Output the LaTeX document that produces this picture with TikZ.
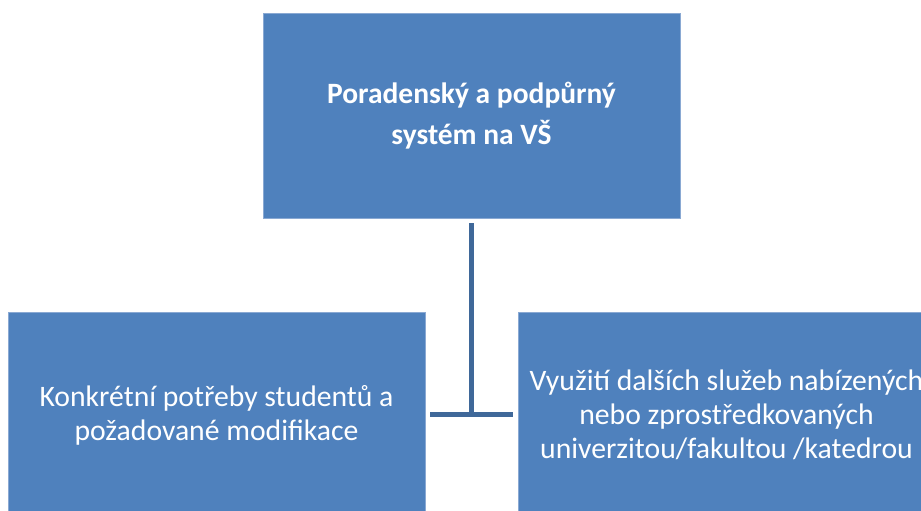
\documentclass[tikz,border=0pt]{standalone}
\usepackage{fontspec}
\setmainfont{Carlito}
\definecolor{boxfill}{HTML}{4F81BD}
\definecolor{boxedge}{HTML}{8AA9D3}
\definecolor{linkcol}{HTML}{3F6899}
\begin{document}
\begin{tikzpicture}[x=1pt,y=1pt,
  orgbox/.style={fill=boxfill,draw=boxedge,line width=0.8pt,
    minimum width=417pt,minimum height=206pt,inner sep=0pt,
    text=white,align=center,font=\fontsize{29.7}{34}\selectfont},
  link/.style={draw=linkcol,line width=5pt}]
\useasboundingbox (0,0) rectangle (921,511);
% top box: head of the structure
\node[orgbox,minimum height=205pt,font=\bfseries\fontsize{29.5}{41}\selectfont]
  (top) at (471.5,395.5) {Poradenský a podpůrný\\systém na VŠ};
% lower boxes
\node[orgbox] (left) at (216.5,96) {Konkrétní potřeby studentů a\\požadované modifikace};
\node[orgbox] (right) at (726.5,96)
  {Využití dalších služeb nabízených\\nebo zprostředkovaných\\univerzitou/fakultou /katedrou};
% connectors
\coordinate (hub) at (top.south |- 0,96);
\draw[link] ([yshift=-5pt]top.south) -- (hub);
\draw[link] ([xshift=5pt]left.east |- hub) -- ([xshift=-5pt]right.west |- hub);
\end{tikzpicture}
\end{document}
